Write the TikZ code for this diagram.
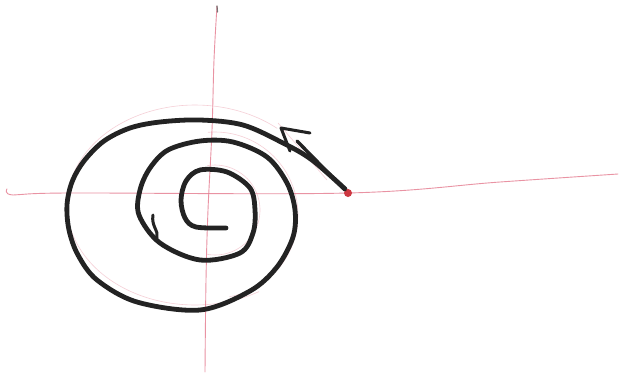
\documentclass[tikz,border=0pt]{standalone}
\definecolor{inkblack}{RGB}{35,35,35}
\definecolor{axisred}{RGB}{228,120,140}
\definecolor{dotred}{RGB}{205,55,65}
\begin{document}
\begin{tikzpicture}[x=1pt,y=-1pt,
  axis/.style={draw=axisred, line width=0.9pt, line cap=round, opacity=0.8},
  guide/.style={draw=axisred, line width=0.6pt, opacity=0.35},
  ink/.style={draw=inkblack, line width=4.8pt, line cap=round, line join=round}]
\useasboundingbox (0,0) rectangle (620,381);
\fill[white] (0,0) rectangle (620,381);
% axes
\draw[axis] plot[smooth, tension=0.6] coordinates {(7,189) (13,195) (67,193) (348,193) (500,182) (618,174)};
\draw[axis] plot[smooth, tension=0.6] coordinates {(217,6) (214,60) (212,130) (208,210) (206,280) (205,372)};
\draw[inkblack, line width=1.2pt, line cap=round, opacity=0.6] (217,6) -- (217.5,12);
% pencil guides
\draw[guide] plot[domain=50:300, smooth, samples=50] ({195+128*cos(\x)}, {205-100*sin(\x)});
\draw[guide] plot[domain=-80:95, smooth, samples=40] ({215+83*cos(\x)}, {215-83*sin(\x)});
\draw[guide] plot[domain=-100:100, smooth, samples=40] ({215+45*cos(\x)}, {210-45*sin(\x)});
\draw[guide] (278,123) -- (327,180);
% spiral
\draw[ink] plot[smooth, tension=0.55] coordinates {
  (345,189) (312,160) (283,143) (243,125) (200,120) (160,122) (130,128) (104,141)
  (84,161) (72,182) (67,205) (69,230) (78,255) (97,280) (137,302) (200,310) (250,291) (277,267)
  (293,237) (295,210) (287,183) (267,157) (233,142) (200,141) (168,150) (150,168)
  (140,190) (139,215) (160,243) (200,260) (240,253) (253,233) (255,210) (250,188)
  (227,172) (200,170) (186,181) (181,200) (185,218) (196,227) (226,228)};
% small hook
\draw[ink, line width=3pt] (153,215) .. controls (151,226) and (159,231) .. (157,238);
% initial point and tangent arrow
\node[circle, fill=dotred, inner sep=0pt, minimum size=8pt] (dot) at (348,193) {};
\coordinate (tip) at (297,141);
\draw[ink, line width=3.4pt] (dot) -- (tip);
\draw[ink, line width=3pt] (290,151) -- (281,128) -- (310,133);
\end{tikzpicture}
\end{document}
